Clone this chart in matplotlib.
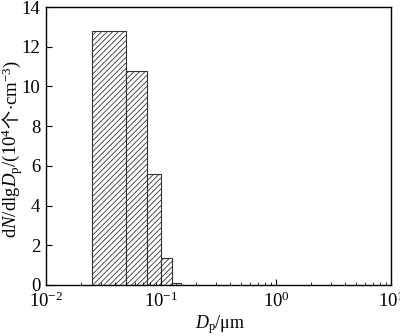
import numpy as np
import matplotlib
matplotlib.use('Agg')
import matplotlib.pyplot as plt

plt.rcParams.update({
    'font.family': ['Liberation Serif', 'Noto Sans CJK SC'],
    'font.size': 13.5,
    'mathtext.fontset': 'custom',
    'mathtext.rm': 'Liberation Serif',
    'mathtext.it': 'Liberation Serif:italic',
    'mathtext.bf': 'Liberation Serif:bold',
    'hatch.linewidth': 0.6,
    'axes.linewidth': 1.0,
})

# bin edges (um) and number concentration (10^4 /cm^3)
bin_edges = [0.025, 0.05, 0.075, 0.1, 0.125, 0.15]
dN_dlgDp = [12.8, 10.8, 5.6, 1.38, 0.12]

fig = plt.figure(figsize=(4.0, 3.36), dpi=100)
W, H = fig.get_figwidth() * fig.dpi, fig.get_figheight() * fig.dpi
ax = fig.add_axes([0.115, 0.152, 0.8625, 0.827])

left = np.array(bin_edges[:-1])
widths = np.diff(bin_edges)
ax.bar(left, dN_dlgDp, width=widths, align='edge', color='white',
       edgecolor='#333333', linewidth=0.8, hatch='//////')

ax.set_xscale('log')
ax.set_xlim(1e-2, 1e1)
ax.set_ylim(0, 14)
ax.set_yticks(range(0, 15, 2))

ax.tick_params(which='both', direction='in', top=False, right=False)
ax.tick_params(which='major', length=4)
ax.tick_params(which='minor', length=2.5)
ax.tick_params(axis='x', pad=5)
ax.tick_params(axis='y', pad=4)

# x label placed by baseline
fig.text(220 / W, (H - 328) / H, r'$D_\mathrm{p}$/μm', ha='center',
         va='baseline', fontsize=13)

# y label built from pieces so the CJK glyph gets its own font
ysize = 13.5
pieces = [
    (r'd$N$/dlg$D_\mathrm{p}$/(10$^4$', {}),
    ('个', {'family': 'Noto Sans CJK SC', 'fontsize': ysize - 0.5}),
    (r'$\cdot$cm$^{-3}$)', {}),
]
renderer = fig.canvas.get_renderer()
texts = []
for s, kw in pieces:
    kw = dict({'fontsize': ysize}, **kw)
    t = fig.text(0, 0, s, rotation=90, rotation_mode='anchor',
                 ha='left', va='baseline', **kw)
    texts.append(t)
lengths = [t.get_window_extent(renderer).height for t in texts]
total = sum(lengths)
x_base = 17.0 / W
y_px = H - (149.0 + total / 2)
for t, L in zip(texts, lengths):
    t.set_position((x_base, y_px / H))
    y_px += L

fig.savefig('out.png', dpi=100, facecolor='white')
